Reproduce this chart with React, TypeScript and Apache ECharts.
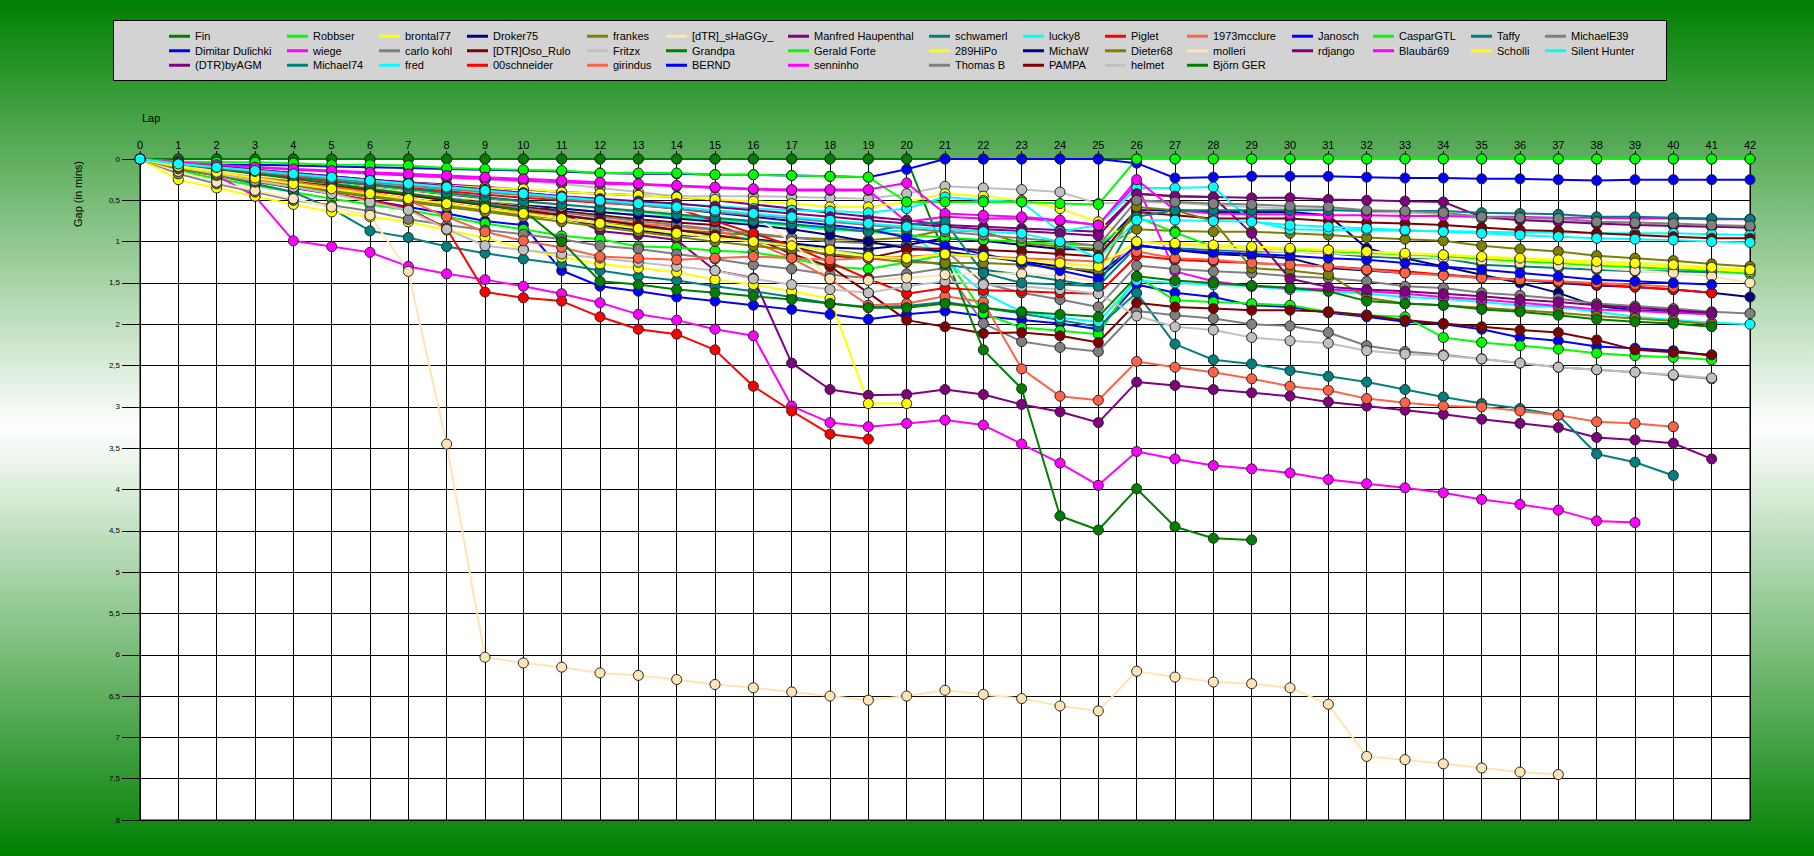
import React, { useEffect, useRef } from "react";
import * as echarts from "echarts";

const names: string[] = [
  "Fin", "Dimitar Dulichki", "(DTR)byAGM", "Robbser", "wiege", "Michael74", "brontal77", "carlo kohl", "fred",
  "Droker75", "[DTR]Oso_Rulo", "00schneider", "frankes", "Fritzx", "girindus", "[dTR]_sHaGGy_", "Grandpa", "BERND",
  "Manfred Haupenthal", "Gerald Forte", "senninho", "schwamerl", "289HiPo", "Thomas B", "lucky8", "MichaW", "PAMPA",
  "Piglet", "Dieter68", "helmet", "1973mcclure", "molleri", "Björn GER", "Janosch", "rdjango", "CasparGTL",
  "Blaubär69", "Taffy", "Scholli", "MichaelE39", "Silent Hunter",
];

const palette: string[] = [
  "#008000", "#0000ff", "#800080", "#00ff00", "#ff00ff", "#008080", "#ffff00", "#808080",
  "#00ffff", "#000080", "#800000", "#ff0000", "#808000", "#c0c0c0", "#ff6347", "#ffe4b5",
];

const laps: number[] = [0,1,2,3,4,5,6,7,8,9,10,11,12,13,14,15,16,17,18,19,20,21,22,23,24,25,26,27,28,29,30,31,32,33,34,35,36,37,38,39,40,41,42];

const fin = [0,0,0,0,0,0,0,0,0,0, 0,0,0,0,0,0,0,0,0,0, 0,0,0,0,0,0,0,0,0,0, 0,0,0,0,0,0,0,0,0,0, 0,0,0];
const dimitar = [0, .12,.2,.27,.35,.42,.5,.58,.66,.75,.8, 1.35,1.54,1.6,1.67,1.72,1.77,1.82,1.88,1.94,1.88, 1.84,1.9,1.95,1.99,2.06,1.52,1.62,1.67,1.77,1.79, 1.86,1.91,1.97,2.0,2.06,2.16,2.2,2.27,2.29,2.32,2.38];
const byAGM = [0, .07,.13,.19,.24,.3,.35,.4,.44,.48,.5, .66,.87,.92,.98,1.35,1.44,2.47,2.79,2.86,2.85, 2.79,2.85,2.97,3.06,3.19,2.7,2.74,2.79,2.83,2.87, 2.94,2.99,3.04,3.09,3.15,3.2,3.25,3.37,3.4,3.44,3.63];
const robbser = [0, .14,.24,.32,.4,.48,.55,.62,.7,.78,.85, .93,.97,1.06,1.07,1.11,1.13,1.2,1.3,1.33,1.25, 1.16,1.87,2.04,2.08,2.12,1.42,1.71,1.73,1.75,1.77, 1.85,1.89,1.91,2.16,2.22,2.26,2.3,2.35,2.38,2.4,2.43];
const wiege = [0, .1,.2,.45,.99,1.06,1.13,1.3,1.39,1.46,1.54, 1.63,1.74,1.88,1.95,2.06,2.14,2.99,3.19,3.24,3.2, 3.16,3.22,3.45,3.68,3.95,3.54,3.63,3.71,3.75,3.8, 3.88,3.93,3.98,4.04,4.12,4.18,4.25,4.38,4.4];
const michael74 = [0, .1,.2,.3,.4,.6,.87,.95,1.06,1.14,1.21, 1.27,1.35,1.42,1.47,1.54,1.6,1.67,1.75,1.79,1.78, 1.73,1.8,1.87,1.95,2.03,1.62,2.24,2.43,2.48,2.56, 2.63,2.7,2.79,2.88,2.96,3.02,3.1,3.57,3.67,3.83];
const brontal77 = [0, .25,.35,.45,.55,.64,.7,.76,.86,.95,1.09, 1.19,1.27,1.32,1.37,1.46,1.52,1.6,1.69,2.96,2.96];
const carloKohl = [0, .18,.3,.4,.5,.56,.63,.73,.8,.86,.91, .97,1.05,1.09,1.15,1.21,1.28,1.33,1.4,1.44,1.39, 1.32,1.99,2.21,2.28,2.33,1.84,1.89,1.93,2.0,2.02, 2.1,2.26,2.33,2.37,2.42,2.47,2.52,2.55,2.58,2.62,2.66];
const fred = [0, .08,.14,.2,.26,.31,.36,.41,.46,.5,.55, .6,.64,.68,.7,.74,.77,.81,.86,.87,.87, 1.22,1.62,1.85,1.92,1.97,1.47,1.5,1.52,1.54,1.58, 1.6,1.63,1.67,1.69,1.73,1.77,1.79,1.85,1.91,1.95, 1.98,2.0];
const droker75 = [0, .1,.17,.24,.3,.36,.42,.48,.54,.6,.66, .72,.8,.86,.92,.94,.97,1.02,1.07,1.09,1.04, .96,.99,1.04,1.09,1.1,.62,.62,.64,.64,.64, .68,1.08,1.2,1.3,1.4,1.5,1.62,1.78,1.83,1.85,1.88];
const osoRulo = [0, .09,.15,.21,.27,.33,.38,.43,.48,.53,.58, .63,.68,.73,.77,.8,.95,1.15,1.3,1.62,1.95, 2.03,2.11,2.1,2.14,2.22,1.74,1.79,1.81,1.83,1.83, 1.85,1.89,1.95,1.99,2.03,2.07,2.1,2.19,2.31,2.34,2.37];
const schneider = [0, .1,.18,.26,.34,.42,.5,.6,.84,1.61,1.68, 1.72,1.91,2.06,2.12,2.31,2.75,3.05,3.33,3.39];
const frankes = [0, .1,.18,.25,.32,.38,.44,.5,.56,.62,.68, .72,.78,.82,.86,.89,.92,.95,.97,.98,.95, .86,.88,1.02,1.06,1.09,.85,.87,.88,.88,.9, .92,.95,.97,.99,1.05,1.09,1.12,1.17,1.2,1.23, 1.27,1.3];
const fritzx = [0, .04,.07,.09,.12,.15,.17,.2,.23,.25,.27, .3,.35,.4,.45,.45,.45,.46,.47,.48,.42, .33,.35,.37,.4,.54,.52,.53,.56,.58,.6, .6,.64,.65,.67,.72,.73,.74,.79,.79,.8, .82,.83];
const girindus = [0, .09,.16,.23,.3,.36,.42,.48,.54,.6,.64, .68,.73,.78,.82,.86,1.0,1.2,1.45,1.77,1.75, 1.66,1.73,2.54,2.87,2.92,2.45,2.52,2.58,2.66,2.75, 2.8,2.9,2.95,2.99,3.0,3.05,3.1,3.18,3.2,3.24];
const shaggy = [0, .15,.28,.38,.48,.58,.68,1.36,3.45,6.03,6.1, 6.15,6.22,6.25,6.3,6.36,6.4,6.45,6.5,6.55,6.5, 6.43,6.48,6.53,6.62,6.68,6.2,6.27,6.33,6.35,6.4, 6.6,7.23,7.27,7.32,7.37,7.42,7.45];
const grandpa = [0,0,0,0,0,0,0,0,0,0, 0,0,0,0,0,0,0,0,0,0, 0, 1.16,2.31,2.78,4.32,4.49,3.99,4.45,4.59,4.61];
const bernd = [0, .05,.07,.07,.08,.09,.1,.11,.12,.13,.14, .15,.17,.18,.18,.19,.19,.2,.21,.22,.125, 0,0,0,0,0,.05,.23,.22,.21,.21, .21,.22,.23,.23,.24,.24,.25,.26,.25,.25, .25,.25];
const manfred = [0, .06,.1,.14,.18,.22,.25,.28,.31,.34,.37, .4,.42,.44,.46,.5,.55,.6,.65,.7,.74, .8,.82,.84,.86,.88,.42,.45,.46,.47,.47, .49,.5,.51,.52,.7,.74,.76,.78,.8,.81, .82,.83];
const gerald = [0, .07,.12,.17,.22,.27,.32,.37,.42,.47,.52, .56,.6,.64,.68,.72,.76,.8,.84,.88,.92, .95,.98,1.0,1.03,1.05,.7,.89,1.06,1.08,1.1, 1.12,1.14,1.16,1.18,1.21,1.24,1.26,1.29,1.31,1.33, 1.36,1.39];
const senninho = [0, .05,.08,.1,.13,.15,.18,.2,.22,.24,.26, .28,.3,.31,.33,.35,.37,.38,.38,.38,.76, .7,.72,.72,.75,.8,.3,1.36,1.48,1.54,1.56, 1.58,1.6,1.63,1.67,1.7,1.74,1.78,1.82,1.84,1.86,1.88];
const schwamerl = [0, .08,.14,.2,.26,.32,.38,.44,.5,.56,.62, .68,.74,.8,.86,.92,.98,1.04,1.1,1.16,1.22, 1.28,1.34,1.4,1.47,1.54,1.06,1.08,1.1,1.12,1.12, 1.14,1.18,1.2,1.2,1.28,1.3,1.32,1.34,1.36,1.36,1.37];
const hipo289 = [0, .1,.14,.17,.2,.23,.26,.29,.32,.35,.36, .4,.42,.44,.46,.49,.51,.54,.58,.58,.52, .42,.45,.5,.6,.76,1.0,1.03,1.06,1.08,1.09, 1.1,1.12,1.15,1.16,1.19,1.21,1.24,1.27,1.28,1.31, 1.33,1.36];
const thomasB = [0, .07,.13,.19,.25,.3,.36,.42,.48,.54,.6, .65,.7,.75,.8,.85,.9,.95,1.0,1.02,1.05, 1.1,1.5,1.62,1.7,1.79,1.29,1.33,1.36,1.38,1.42, 1.44,1.48,1.54,1.56,1.62,1.65,1.69,1.75,1.78,1.81, 1.85,1.87];
const lucky8 = [0, .06,.11,.16,.21,.25,.29,.33,.37,.4,.43, .46,.49,.52,.55,.57,.6,.62,.63,.65,.6, .46,.5,.52,.88,.8,.35,.35,.34,.75,.85, .86,.86,.87,.87,.88,.89,.89,.9,.9,.9, .91,.92];
const michaW = [0, .08,.14,.2,.25,.3,.35,.4,.45,.5,.55, .6,.64,.68,.72,.76,.8,.85,.92,1.0,1.08, 1.12,1.18,1.24,1.3,1.39,1.04,1.1,1.15,1.17,1.2, 1.32,1.35,1.38,1.4,1.44,1.46,1.5,1.53,1.55,1.58, 1.62,1.67];
const pampa = [0, .08,.14,.2,.26,.32,.38,.44,.5,.56,.62, .68,.74,.8,.86,.92,1.0,1.06,1.17,1.2,1.1, 1.08,1.1,1.12,1.15,1.18,.64,.68,.72,.72,.72, .75,.77,.78,.8,.83,.86,.87,.9,.92,.94, .96,.96];
const piglet = [0, .07,.12,.17,.22,.27,.31,.35,.39,.43,.47, .5,.53,.56,.6,.75,.9,1.05,1.25,1.45,1.63, 1.56,1.59,1.6,1.62,1.63,1.17,1.22,1.24,1.26,1.28, 1.3,1.33,1.36,1.4,1.43,1.46,1.49,1.52,1.55,1.58,1.62];
const dieter68 = [0, .12,.2,.28,.34,.4,.46,.52,.58,.64,.7, .76,.82,.88,.94,1.0,1.05,1.1,1.15,1.2,1.25, 1.26,1.26,1.28,1.32,1.35,.58,.62,.75,1.32,1.35, 1.4,1.68,1.75,1.77,1.8,1.83,1.86,1.9,1.93,1.96,2.0];
const helmet = [0, .1,.18,.26,.34,.42,.52,.62,.85,1.05,1.1, 1.15,1.2,1.25,1.3,1.35,1.45,1.52,1.58,1.62,1.54, 1.48,1.52,1.54,1.58,1.63,1.9,2.03,2.07,2.16,2.2, 2.23,2.32,2.36,2.38,2.42,2.47,2.52,2.55,2.58,2.61,2.65];
const mcclure = [0, .09,.16,.22,.28,.34,.4,.5,.7,.88,.99, 1.07,1.18,1.2,1.22,1.2,1.18,1.2,1.22,1.2,1.18, 1.16,1.18,1.2,1.22,1.24,1.12,1.2,1.22,1.26,1.28, 1.3,1.34,1.38,1.41,1.44,1.46,1.48,1.5,1.52,1.55];
const molleri = [0, .08,.14,.2,.25,.3,.35,.4,.45,.5,.54, .57,.6,.62,.63,.64,.68,1.0,1.45,1.47,1.44, 1.4,1.38,1.39,1.42,1.48,1.0,1.05,1.08,1.1,1.12, 1.14,1.16,1.18,1.2,1.23,1.26,1.29,1.32,1.35,1.38, 1.42,1.5];
const bjoern = [0, .06,.12,.18,.24,.3,.36,.42,.48,.55,.62, 1.0,1.48,1.52,1.58,1.62,1.66,1.7,1.75,1.8,1.8, 1.75,1.8,1.85,1.88,1.91,1.42,1.47,1.5,1.53,1.56, 1.6,1.72,1.75,1.77,1.82,1.85,1.89,1.94,1.97,1.99,2.03];
const janosch = [0, .05,.09,.13,.17,.21,.25,.29,.33,.37,.41, .45,.5,.55,.6,.65,.7,.75,.8,.85,.95, 1.05,1.15,1.25,1.35,1.45,1.04,1.1,1.13,1.15,1.17, 1.2,1.22,1.26,1.3,1.34,1.38,1.42,1.46,1.48,1.5,1.52];
const rdjango = [0, .05,.09,.13,.17,.21,.25,.29,.33,.37,.41, .45,.48,.51,.54,.58,.62,.66,.7,.74,.78, .82,.85,.87,.9,.93,.42,.45,.46,.9,1.45, 1.55,1.58,1.6,1.63,1.66,1.7,1.73,1.77,1.8,1.83,1.86];
const casparGTL = [0, .03,.04,.04,.05,.07,.07,.08,.11,.12,.13, .14,.17,.17,.17,.19,.19,.2,.21,.22,.52, .52,.52,.52,.54,.55,0,0,0,0,0, 0,0,0,0,0,0,0,0,0,0, 0,0];
const blaubaer = [0, .04,.07,.1,.12,.14,.16,.18,.2,.22,.24, .26,.28,.3,.32,.34,.36,.37,.37,.37,.29, .66,.68,.7,.74,.8,.25,.62,.66,.67,.67, .68,.68,.69,.69,.7,.7,.71,.71,.72,.72, .73,.73];
const taffy = [0, .06,.11,.16,.21,.26,.31,.36,.41,.46,.51, .55,.59,.63,.67,.71,.75,.79,.83,.88,.8, .76,1.38,1.5,1.52,1.54,.7,.62,.62,.62,.62, .62,.63,.63,.63,.65,.66,.67,.7,.7,.71, .72,.73];
const scholli = [0, .09,.16,.23,.3,.36,.42,.48,.54,.6,.66, .72,.78,.84,.9,.95,1.0,1.05,1.1,1.18,1.2, 1.15,1.18,1.22,1.26,1.3,1.0,1.02,1.04,1.06,1.08, 1.1,1.12,1.14,1.16,1.18,1.2,1.22,1.24,1.26,1.28, 1.31,1.34];
const michaelE39 = [0, .05,.1,.15,.2,.24,.28,.32,.36,.4,.44, .48,.52,.56,.6,.64,.68,.72,.76,.8,.84, .88,.92,.96,1.0,1.05,.5,.52,.54,.55,.57, .58,.62,.63,.65,.7,.71,.72,.76,.77,.78, .8,.81];
const silentHunter = [0, .06,.1,.14,.18,.22,.26,.3,.34,.38,.42, .46,.5,.54,.58,.62,.66,.7,.74,.78,.82, .85,.88,.9,1.0,1.2,.74,.74,.75,.76,.8, .82,.84,.86,.88,.9,.92,.94,.96,.97,.98, 1.0,1.01];

const values: number[][] = [
  fin, dimitar, byAGM, robbser, wiege, michael74, brontal77, carloKohl, fred,
  droker75, osoRulo, schneider, frankes, fritzx, girindus, shaggy, grandpa, bernd,
  manfred, gerald, senninho, schwamerl, hipo289, thomasB, lucky8, michaW, pampa,
  piglet, dieter68, helmet, mcclure, molleri, bjoern, janosch, rdjango, casparGTL,
  blaubaer, taffy, scholli, michaelE39, silentHunter,
];

const yTicks: number[] = [0, 0.5, 1, 1.5, 2, 2.5, 3, 3.5, 4, 4.5, 5, 5.5, 6, 6.5, 7, 7.5, 8];

const legendCols: number[] = [169, 287, 379, 467, 587, 666, 788, 929, 1023, 1105, 1187, 1292, 1373, 1471, 1545];

export default function App() {
  const ref = useRef<HTMLDivElement>(null);
  useEffect(() => {
    if (!ref.current) return;
    const chart = echarts.init(ref.current, null, { renderer: "svg" });

    const columns: string[][] = [];
    let idx = 0;
    for (let c = 0; c < legendCols.length; c++) {
      const n = c < 11 ? 3 : 2;
      columns.push(names.slice(idx, idx + n));
      idx += n;
    }

    const legends = columns.map((col, c) => ({
      orient: "vertical",
      left: legendCols[c],
      top: 29,
      padding: 0,
      itemGap: 0,
      itemWidth: 21,
      itemHeight: 3,
      icon: "rect",
      itemStyle: { borderWidth: 0 },
      textStyle: { fontSize: 11, fontFamily: "Liberation Sans, Arial, sans-serif", color: "#000", lineHeight: 14.5 },
      data: col,
      selectedMode: false,
    }));

    const series = names.map((name, i) => ({
      name,
      type: "line",
      data: values[i].map((v, k) => [laps[k], v]),
      symbol: "circle",
      symbolSize: 10,
      showSymbol: true,
      color: palette[i % palette.length],
      lineStyle: { width: 2, color: palette[i % palette.length] },
      itemStyle: { color: palette[i % palette.length], borderColor: "#222", borderWidth: 1 },
      emphasis: { disabled: true },
      z: 2,
    }));

    chart.setOption({
      animation: false,
      backgroundColor: {
        type: "linear", x: 0, y: 0, x2: 0, y2: 1,
        colorStops: [
          { offset: 0, color: "#008000" },
          { offset: 0.5, color: "#ffffff" },
          { offset: 1, color: "#008000" },
        ],
      },
      textStyle: { fontFamily: "Liberation Sans, Arial, sans-serif" },
      graphic: [
        {
          type: "rect", z: 0, silent: true,
          shape: { x: 113.5, y: 20.5, width: 1553, height: 60 },
          style: { fill: "#d3d3d3", stroke: "#000", lineWidth: 1 },
        },
        {
          type: "text", left: 142, top: 112,
          style: { text: "Lap", fontSize: 11, fill: "#000", fontFamily: "Liberation Sans, Arial, sans-serif" },
        },
        {
          type: "text", x: 78, y: 194, rotation: Math.PI / 2,
          style: { text: "Gap (in mins)", fontSize: 11, fill: "#000", align: "center", verticalAlign: "middle", fontFamily: "Liberation Sans, Arial, sans-serif" },
        },
      ],
      legend: legends,
      grid: {
        left: 140, right: 64, top: 159, bottom: 36,
        show: true, backgroundColor: "#ffffff", borderColor: "#000", borderWidth: 1,
      },
      xAxis: {
        type: "value", position: "top", min: 0, max: 42, interval: 1,
        axisLine: { show: true, lineStyle: { color: "#000", width: 1 } },
        axisTick: { show: true, length: 8, lineStyle: { color: "#000" } },
        axisLabel: { fontSize: 11, color: "#000", margin: 9 },
        splitLine: { show: true, lineStyle: { color: "#000", width: 1 } },
      },
      yAxis: {
        type: "value", inverse: true, min: yTicks[0], max: yTicks[yTicks.length - 1], interval: 0.5,
        axisLine: { show: true, lineStyle: { color: "#000" } },
        axisTick: { show: true, length: 18, lineStyle: { color: "#000" } },
        axisLabel: {
          fontSize: 8, color: "#000", margin: 20,
          formatter: (v: number) => String(v).replace(".", ","),
        },
        splitLine: { show: true, lineStyle: { color: "#000", width: 1 } },
      },
      series,
    });
    return () => chart.dispose();
  }, []);
  return <div ref={ref} style={{ position: "fixed", left: 0, top: 0, width: 1814, height: 856 }} />;
}
